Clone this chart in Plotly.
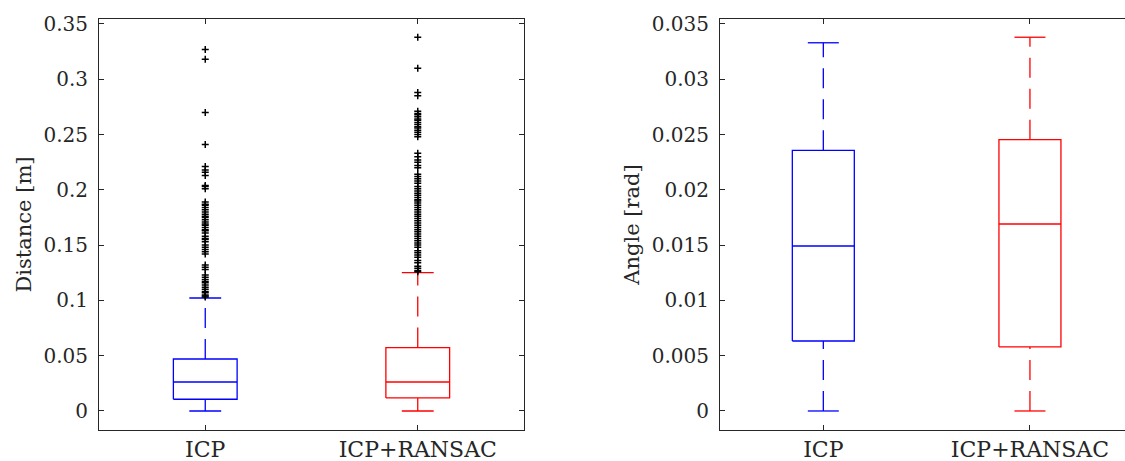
import plotly.graph_objects as go

# ---------------- data ----------------
categories = ["ICP", "ICP+RANSAC"]
positions = [1, 2]

# Distance [m] box statistics
dist_lower = [0.0, 0.0]
dist_q1 = [0.0106, 0.0118]
dist_median = [0.0262, 0.0262]
dist_q3 = [0.0470, 0.0573]
dist_upper = [0.1022, 0.1251]

dist_outliers_icp = [
    0.327, 0.318, 0.270, 0.241, 0.221, 0.218, 0.216, 0.213, 0.204, 0.203,
    0.201, 0.189, 0.187, 0.186, 0.184, 0.182, 0.180, 0.178, 0.176, 0.175,
    0.173, 0.171, 0.169, 0.168, 0.166, 0.164, 0.163, 0.161, 0.158, 0.156,
    0.155, 0.153, 0.150, 0.148, 0.146, 0.144, 0.142, 0.132, 0.130, 0.128,
    0.123, 0.121, 0.119, 0.117, 0.116, 0.114, 0.112, 0.110, 0.108, 0.107,
    0.105, 0.104, 0.103,
]
dist_outliers_ransac = [
    0.338, 0.310, 0.288, 0.285, 0.271, 0.269, 0.268, 0.266, 0.264, 0.263,
    0.261, 0.259, 0.257, 0.256, 0.254, 0.252, 0.250, 0.248, 0.233, 0.230,
    0.227, 0.225, 0.222, 0.220, 0.214, 0.212, 0.210, 0.208, 0.206, 0.203,
    0.201, 0.199, 0.197, 0.195, 0.193, 0.191, 0.190, 0.188, 0.186, 0.184,
    0.182, 0.180, 0.178, 0.176, 0.174, 0.172, 0.170, 0.168, 0.166, 0.164,
    0.162, 0.160, 0.158, 0.156, 0.154, 0.152, 0.150, 0.148, 0.145, 0.143,
    0.141, 0.139, 0.136, 0.134, 0.131, 0.129, 0.127, 0.126,
]
dist_outliers = [dist_outliers_icp, dist_outliers_ransac]

# Angle [rad] box statistics
ang_lower = [0.0, 0.0]
ang_q1 = [0.00633, 0.00579]
ang_median = [0.01492, 0.01691]
ang_q3 = [0.02357, 0.02454]
ang_upper = [0.0333, 0.0338]

dist_ticks = [0, 0.05, 0.1, 0.15, 0.2, 0.25, 0.3, 0.35]
dist_ticktext = ["0", "0.05", "0.1", "0.15", "0.2", "0.25", "0.3", "0.35"]
ang_ticks = [0, 0.005, 0.01, 0.015, 0.02, 0.025, 0.03, 0.035]
ang_ticktext = ["0", "0.005", "0.01", "0.015", "0.02", "0.025", "0.03", "0.035"]

colors = ["#0000ff", "#ff0000"]

# ---------------- styling ----------------
BOX_HALF = 0.15
CAP_HALF = 0.075
LW = 1.3
DASH = "20px,11px"
FONT = "DejaVu Serif"
AX_COLOR = "#262626"

fig = go.Figure()


def add_boxes(xa, ya, lower, q1, med, q3, upper, outliers=None):
    for i, p in enumerate(positions):
        c = colors[i]
        common = dict(xaxis=xa, yaxis=ya, mode="lines", showlegend=False,
                      hoverinfo="skip")
        fig.add_trace(go.Scatter(
            x=[p - BOX_HALF, p + BOX_HALF, p + BOX_HALF, p - BOX_HALF, p - BOX_HALF],
            y=[q1[i], q1[i], q3[i], q3[i], q1[i]],
            line=dict(color=c, width=LW), **common))
        fig.add_trace(go.Scatter(
            x=[p - BOX_HALF, p + BOX_HALF], y=[med[i], med[i]],
            line=dict(color=c, width=LW), **common))
        fig.add_trace(go.Scatter(
            x=[p, p], y=[q3[i], upper[i]],
            line=dict(color=c, width=LW, dash=DASH), **common))
        fig.add_trace(go.Scatter(
            x=[p, p], y=[lower[i], q1[i]],
            line=dict(color=c, width=LW, dash=DASH), **common))
        fig.add_trace(go.Scatter(
            x=[p - CAP_HALF, p + CAP_HALF], y=[upper[i], upper[i]],
            line=dict(color=c, width=LW), **common))
        fig.add_trace(go.Scatter(
            x=[p - CAP_HALF, p + CAP_HALF], y=[lower[i], lower[i]],
            line=dict(color=c, width=LW), **common))
        if outliers is not None:
            fig.add_trace(go.Scatter(
                x=[p] * len(outliers[i]), y=outliers[i], xaxis=xa, yaxis=ya,
                mode="markers", showlegend=False, hoverinfo="skip",
                marker=dict(symbol="cross-thin", size=5,
                            line=dict(color="black", width=1.5))))


add_boxes("x", "y", dist_lower, dist_q1, dist_median, dist_q3, dist_upper,
          dist_outliers)
add_boxes("x2", "y2", ang_lower, ang_q1, ang_median, ang_q3, ang_upper)

W, H = 1125, 461
ydom = [1 - 430 / H, 1 - 19 / H]

ytickfont = dict(family=FONT, size=20, color=AX_COLOR)
xtickfont = dict(family=FONT, size=22, color=AX_COLOR)
titlefont = dict(family=FONT, size=21, color=AX_COLOR)

xcommon = dict(
    tickvals=positions, ticktext=categories, ticks="inside", ticklen=5,
    tickcolor=AX_COLOR, showline=True, linecolor=AX_COLOR, linewidth=1,
    showgrid=False, zeroline=False, tickfont=xtickfont, automargin=False,
    ticklabelstandoff=0,
)
ycommon = dict(
    ticks="inside", ticklen=5, tickcolor=AX_COLOR, showline=True,
    linecolor=AX_COLOR, linewidth=1, showgrid=False, zeroline=False,
    tickfont=ytickfont, ticklabelstandoff=6, automargin=False,
)

fig.update_layout(
    width=W, height=H, autosize=False,
    margin=dict(l=0, r=0, t=0, b=0, pad=0),
    paper_bgcolor="white", plot_bgcolor="white",
    font=dict(family=FONT),
    xaxis=dict(domain=[99 / W, 524 / W], range=[0.5, 2.5], anchor="y",
               mirror="ticks", **xcommon),
    yaxis=dict(domain=ydom, range=[-0.0172, 0.3545], anchor="x",
               tickvals=dist_ticks, ticktext=dist_ticktext, mirror="ticks",
               title=dict(text="Distance [m]", font=titlefont, standoff=6),
               **ycommon),
    xaxis2=dict(domain=[720 / W, 1.0], range=[0.5, 2.46], anchor="y2",
                mirror="ticks", **xcommon),
    yaxis2=dict(domain=ydom, range=[-0.00172, 0.03545], anchor="x2",
                tickvals=ang_ticks, ticktext=ang_ticktext, mirror=False,
                title=dict(text="Angle [rad]", font=titlefont, standoff=6),
                **ycommon),
)

fig.write_html("out.html")
